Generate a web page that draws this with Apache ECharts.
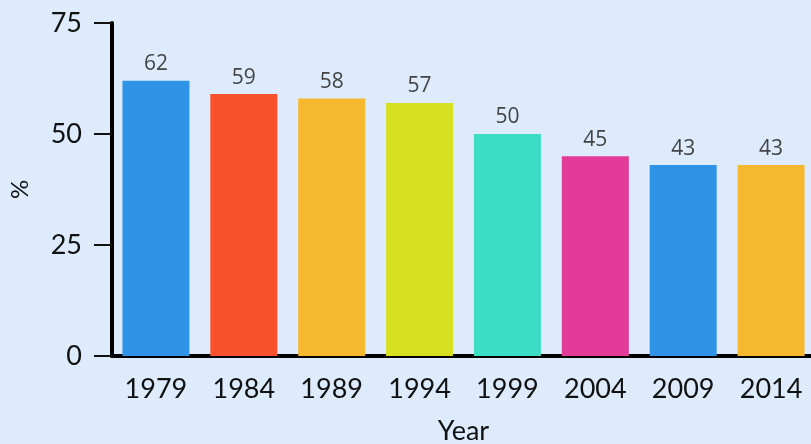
<!DOCTYPE html>
<html>
<head>
<meta charset="utf-8">
<script src="https://cdn.jsdelivr.net/npm/echarts@6/dist/echarts.min.js"></script>
<style>
  html, body { margin: 0; padding: 0; background: #ddebfd; }
  #chart { width: 811px; height: 444px; }
</style>
</head>
<body>
<div id="chart"></div>
<script>
var years = ['1979', '1984', '1989', '1994', '1999', '2004', '2009', '2014'];
var turnout = [62, 59, 58, 57, 50, 45, 43, 43];
var barColors = ['#2f94e8', '#f8512c', '#f6b82f', '#d6e021', '#3ddcc4', '#e33b98', '#2f94e8', '#f6b82f'];
var yTicks = [0, 25, 50, 75];

var chartDom = document.getElementById('chart');
var myChart = echarts.init(chartDom);
var option;

var axisFont = 'Lato';

option = {
  backgroundColor: '#ddebfd',
  animation: false,
  grid: {
    left: 112,
    right: -4,
    top: 23,
    bottom: 88,
    containLabel: false,
    outerBoundsMode: 'none'
  },
  xAxis: {
    type: 'category',
    data: years,
    name: 'Year',
    nameLocation: 'middle',
    nameGap: 62,
    nameTextStyle: { fontFamily: axisFont, fontSize: 27, color: '#111' },
    axisLine: { lineStyle: { color: '#000', width: 4 } },
    axisTick: { alignWithLabel: true, length: 18, lineStyle: { color: '#111', width: 2 } },
    axisLabel: { fontFamily: axisFont, fontSize: 27, color: '#111', margin: 20 }
  },
  yAxis: {
    type: 'value',
    min: yTicks[0],
    max: yTicks[yTicks.length - 1],
    interval: 25,
    name: '%',
    nameLocation: 'middle',
    nameGap: 80,
    nameTextStyle: { fontFamily: axisFont, fontSize: 24, color: '#111' },
    splitLine: { show: false },
    axisLine: { show: true, lineStyle: { color: '#000', width: 4 } },
    axisTick: { show: true, length: 18, lineStyle: { color: '#111', width: 2 } },
    axisLabel: { fontFamily: axisFont, fontSize: 27, color: '#111', margin: 30 }
  },
  series: [
    {
      type: 'bar',
      barWidth: 67,
      data: turnout.map(function (v, i) {
        return { value: v, itemStyle: { color: barColors[i] } };
      }),
      label: {
        show: true,
        position: 'top',
        distance: 6,
        fontFamily: 'Open Sans',
        fontSize: 21,
        color: '#444'
      }
    }
  ]
};

option && myChart.setOption(option);
</script>
</body>
</html>
